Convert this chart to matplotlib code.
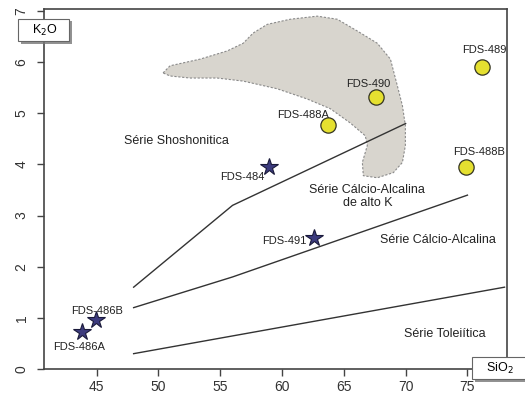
import matplotlib
matplotlib.use("Agg")
from matplotlib import pyplot as plt
from matplotlib import patheffects
from matplotlib.patches import Polygon

plt.rcParams['font.family'] = ['Liberation Sans', 'DejaVu Sans']

# samples (SiO2, K2O)
star_names = ["FDS-486A", "FDS-486B", "FDS-484", "FDS-491"]
star_sio2 = [43.8, 44.95, 58.95, 62.6]
star_k2o = [0.72, 0.95, 3.96, 2.57]

circ_names = ["FDS-488A", "FDS-490", "FDS-489", "FDS-488B"]
circ_sio2 = [63.7, 67.6, 76.2, 74.9]
circ_k2o = [4.78, 5.32, 5.9, 3.96]

# label positions for the samples
star_lab_x = [43.58, 45.04, 56.8, 60.2]
star_lab_y = [0.43, 1.13, 3.76, 2.51]
circ_lab_x = [61.7, 67.0, 76.4, 75.9]
circ_lab_y = [4.97, 5.57, 6.24, 4.25]

# series boundaries
shosh_x = [48, 56, 70]
shosh_y = [1.6, 3.2, 4.8]
hk_x = [48, 56, 75]
hk_y = [1.2, 1.8, 3.4]
thol_x = [48, 78]
thol_y = [0.3, 1.6]

# grey field outline
field_x = [50.38, 50.95, 53.38, 55.57, 56.86, 57.67, 58.81, 60.67, 62.85, 64.47,
           66.09, 67.71, 68.77, 69.33, 69.74, 69.98, 69.98, 69.74, 69.01, 67.71,
           66.58, 66.50, 66.90, 66.74, 65.53, 63.91, 62.04, 59.61, 56.86, 54.76,
           52.57, 50.95]
field_y = [5.79, 5.93, 6.06, 6.22, 6.37, 6.57, 6.74, 6.84, 6.90, 6.84,
           6.61, 6.37, 6.06, 5.54, 5.15, 4.76, 4.37, 4.04, 3.84, 3.74,
           3.78, 4.04, 4.37, 4.56, 4.81, 5.09, 5.28, 5.48, 5.63, 5.69,
           5.69, 5.73]

series_text = ["Série Shoshonitica", "Série Cálcio-Alcalina\nde alto K",
               "Série Cálcio-Alcalina", "Série Toleiítica"]
series_x = [51.45, 66.9, 72.65, 73.2]
series_y = [4.46, 3.38, 2.52, 0.68]

xticks = [45, 50, 55, 60, 65, 70, 75]
yticks = [0, 1, 2, 3, 4, 5, 6, 7]

fig = plt.figure(figsize=(5.25, 3.96), dpi=100)
ax = fig.add_axes([44/525, 27/396, 463/525, 360/396])
ax.set_xlim(40.75, 78.2)
ax.set_ylim(0, 7.04)

field = Polygon(list(zip(field_x, field_y)), closed=True, facecolor="#d8d5ce",
                edgecolor="#8a8a8a", linestyle=(0, (2, 1.5)), linewidth=0.8, zorder=1)
ax.add_patch(field)

for xs, ys in [(shosh_x, shosh_y), (hk_x, hk_y), (thol_x, thol_y)]:
    ax.plot(xs, ys, color="#333333", lw=1.0, zorder=2)

ax.plot(star_sio2, star_k2o, ls="none", marker="*", ms=13, mfc="#3c3b7e",
        mec="#1a1a3a", mew=0.8, zorder=4)
ax.plot(circ_sio2, circ_k2o, ls="none", marker="o", ms=11, mfc="#e5e030",
        mec="#333322", mew=0.9, zorder=4)

for n, x, y in zip(star_names + circ_names, star_lab_x + circ_lab_x,
                   star_lab_y + circ_lab_y):
    ax.text(x, y, n, fontsize=8, ha="center", va="center", color="#222222", zorder=5)

for t, x, y in zip(series_text, series_x, series_y):
    ax.text(x, y, t, fontsize=9, ha="center", va="center", color="#222222",
            linespacing=1.1, zorder=5)

ax.set_xticks(xticks)
ax.set_yticks(yticks)
ax.tick_params(axis="both", direction="out", length=5, width=1, color="#444444",
               labelcolor="#333333", labelsize=10)
ax.tick_params(axis="x", pad=3)
ax.tick_params(axis="y", pad=6)
for lab in ax.get_yticklabels():
    lab.set_rotation(90)
    lab.set_va("center")
for s in ax.spines.values():
    s.set_color("#444444")
    s.set_linewidth(1.2)

shadow = [patheffects.withSimplePatchShadow(offset=(2, -2), shadow_rgbFace="#777777", alpha=0.8)]
box = dict(boxstyle="square,pad=0.3", fc="white", ec="#666666", lw=0.8)
t1 = fig.text(43.5/525, 1 - 30/396, "   K$_2$O   ", fontsize=9, ha="center", va="center",
              bbox=box, zorder=10)
t1.get_bbox_patch().set_path_effects(shadow)
t2 = fig.text(499/525, 1 - 368/396, "   SiO$_2$   ", fontsize=9, ha="center", va="center",
              bbox=box, zorder=10)
t2.get_bbox_patch().set_path_effects(shadow)

fig.savefig("out.png", dpi=100)
